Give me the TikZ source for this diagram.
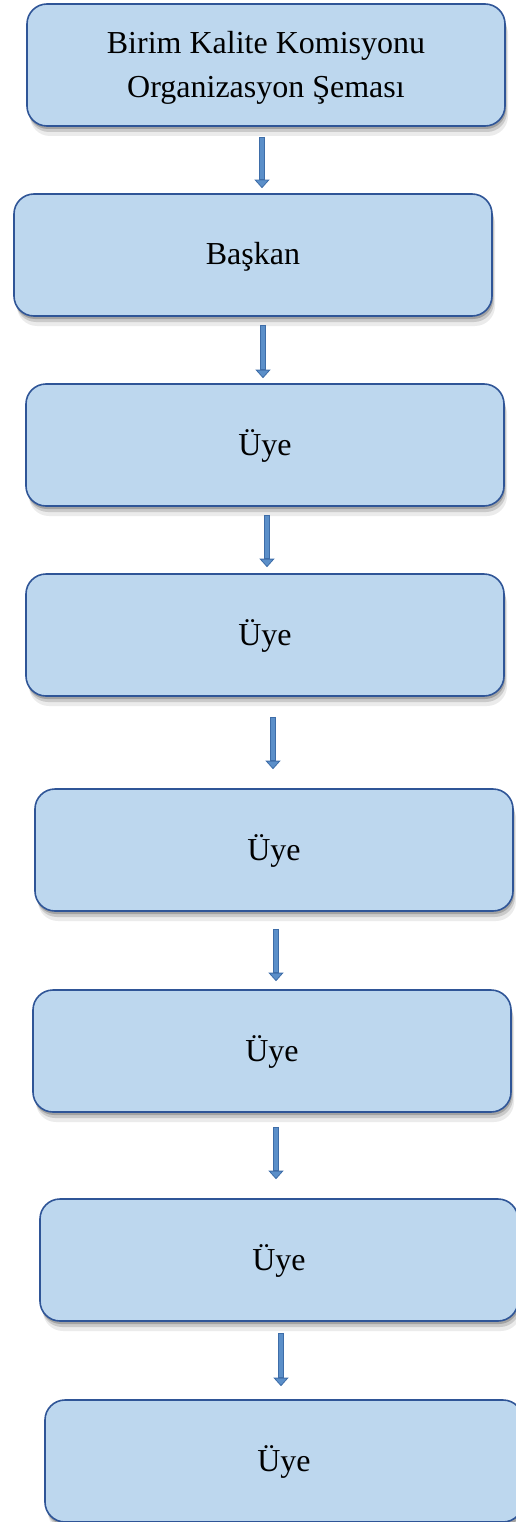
\documentclass[tikz,border=0pt]{standalone}
\usepackage{fontspec}
\setmainfont{Liberation Serif}
\usepackage{tikz}
\usetikzlibrary{shadows}
\usetikzlibrary{arrows.meta}
\definecolor{boxfill}{HTML}{BDD7EE}
\definecolor{boxline}{HTML}{2F5597}
\definecolor{arrowfill}{HTML}{5B8FC9}
\definecolor{arrowline}{HTML}{3E6DA8}
\tikzset{
    unitbox/.style = {rectangle, rounded corners=20pt, line width=1.6pt, draw=boxline, fill=boxfill,
        minimum width=478pt, minimum height=122pt, align=center, text=black,
        font=\fontsize{32}{44}\selectfont,
        drop shadow={shadow xshift=3pt, shadow yshift=-10pt, opacity=0.08, fill=black},
        drop shadow={shadow xshift=2pt, shadow yshift=-6pt, opacity=0.14, fill=black},
        drop shadow={shadow xshift=1pt, shadow yshift=-3pt, opacity=0.20, fill=black}},
    memberbox/.style = {unitbox, text height=26pt, text depth=6pt},
    arrowout/.style = {line width=6.5pt, draw=arrowline,
        -{Triangle[width=15pt,length=8.5pt,line width=0.8pt,fill=arrowfill]}},
    arrowin/.style = {line width=3.5pt, draw=arrowfill}
}
\begin{document}
\begin{tikzpicture}[x=1pt,y=-1pt]
\useasboundingbox (0,0) rectangle (516,1522);
\node[unitbox] at (266,   65) (b1) {\rule{0pt}{28pt}Birim Kalite Komisyonu\\Organizasyon Şeması};
\node[memberbox] at (253,  255) (b2) {Başkan};
\node[memberbox] at (265,  445) (b3) {Üye};
\node[memberbox] at (265,  635) (b4) {Üye};
\node[memberbox] at (274,  850) (b5) {Üye};
\node[memberbox] at (272, 1051) (b6) {Üye};
\node[memberbox] at (279, 1260) (b7) {Üye};
\node[memberbox] at (284, 1461) (b8) {Üye};
% from / to / x offset / gap at top / gap at bottom
\foreach \from/\to/\dx/\gs/\ge in {b1/b2/-4/10/5, b2/b3/10/8/5, b3/b4/2/8/6, b4/b5/8/20/19,
                                   b5/b6/2/17/8, b6/b7/4/14/19, b7/b8/2/11/13}
{
    \draw[arrowout, shorten <=\gs pt, shorten >=\ge pt] ([xshift=\dx pt]\from.south) -- ([xshift=\dx pt]\from.south |- \to.north);
    \draw[arrowin, shorten <=\gs pt+1.5pt, shorten >=\ge pt+9pt] ([xshift=\dx pt]\from.south) -- ([xshift=\dx pt]\from.south |- \to.north);
}
\end{tikzpicture}
\end{document}
